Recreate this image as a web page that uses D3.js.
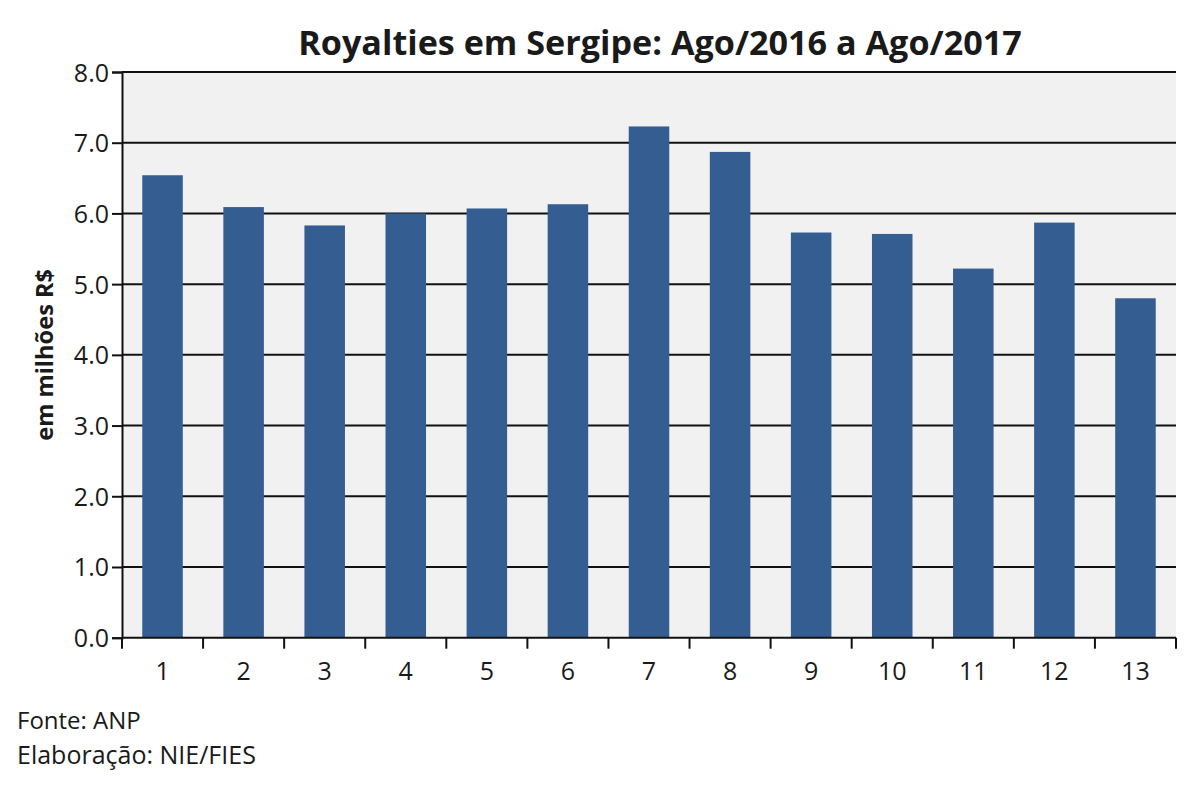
<!DOCTYPE html>
<html>
<head>
<meta charset="utf-8">
<script src="https://cdn.jsdelivr.net/npm/d3@7"></script>
<style>
  body { margin: 0; background: #fff; }
  text { font-family: "Open Sans", "Noto Sans", sans-serif; fill: #1a1a1a; }
</style>
</head>
<body>
<script>
const months = ["1","2","3","4","5","6","7","8","9","10","11","12","13"];
const royalties = [6.54, 6.09, 5.83, 6.00, 6.07, 6.13, 7.23, 6.87, 5.73, 5.71, 5.22, 5.87, 4.80];
const yTicks = [0, 1, 2, 3, 4, 5, 6, 7, 8];

const W = 1200, H = 785;
const m = {top: 72, right: 24, bottom: 148, left: 122};

const svg = d3.select("body").append("svg").attr("width", W).attr("height", H);

const x = d3.scaleBand().domain(months).range([m.left, W - m.right]).paddingInner(0.5).paddingOuter(0.25);
const y = d3.scaleLinear().domain([0, 8]).range([H - m.bottom + 0.7, m.top]);

// shrink/grow a text node so it spans the wanted width
function fit(sel, base, width) {
  sel.style("font-size", base + "px");
  const w = sel.node().getComputedTextLength();
  sel.style("font-size", (base * width / w) + "px");
}

// plot background
svg.append("rect")
    .attr("x", m.left).attr("y", y(8))
    .attr("width", W - m.right - m.left).attr("height", y(0) - y(8))
    .attr("fill", "#f1f1f1");

// gridlines
svg.append("g").selectAll("line").data(yTicks.slice(1)).enter().append("line")
    .attr("x1", m.left).attr("x2", W - m.right)
    .attr("y1", d => y(d)).attr("y2", d => y(d))
    .attr("stroke", "#111").attr("stroke-width", 2);

// bars
svg.append("g").selectAll("rect").data(royalties).enter().append("rect")
    .attr("x", (d, i) => x(months[i]))
    .attr("y", d => y(d))
    .attr("width", x.bandwidth())
    .attr("height", d => y(0) - y(d))
    .attr("fill", "#345e91");

// y axis
const yAxis = svg.append("g").attr("transform", "translate(" + m.left + ",0)")
    .call(d3.axisLeft(y).tickValues(yTicks).tickFormat(d3.format(".1f")).tickSize(10).tickPadding(3));
yAxis.select(".domain").attr("stroke", "#111").attr("stroke-width", 2);
yAxis.selectAll(".tick line").attr("stroke", "#111").attr("stroke-width", 2);
yAxis.selectAll("text").style("font-size", "25px").style("font-family", "'Open Sans', sans-serif")
    .attr("fill", "#2a2a2a").attr("dy", "0.36em");

// x axis, ticks on band boundaries
const step = x.step();
const xg = svg.append("g").attr("transform", "translate(0," + y(0) + ")");
xg.append("line").attr("x1", m.left).attr("x2", W - m.right).attr("stroke", "#111").attr("stroke-width", 2);
xg.selectAll(".bt").data(months).enter().append("line").attr("class", "bt")
    .attr("x1", (d, i) => m.left + step * i).attr("x2", (d, i) => m.left + step * i)
    .attr("y1", 0).attr("y2", 11)
    .attr("stroke", "#111").attr("stroke-width", 2);
xg.append("line").attr("x1", W - m.right).attr("x2", W - m.right).attr("y1", 0).attr("y2", 11)
    .attr("stroke", "#111").attr("stroke-width", 2);
xg.selectAll(".lbl").data(months).enter().append("text").attr("class", "lbl")
    .attr("x", d => x(d) + x.bandwidth() / 2)
    .attr("y", 42)
    .attr("text-anchor", "middle")
    .attr("fill", "#2a2a2a")
    .style("font-size", "25px")
    .text(d => d);

// title
const title = svg.append("text")
    .attr("x", 660).attr("y", 55)
    .attr("text-anchor", "middle")
    .style("font-weight", "bold")
    .text("Royalties em Sergipe: Ago/2016 a Ago/2017");
fit(title, 30, 724);

// y label
const ylab = svg.append("text")
    .attr("transform", "translate(53," + ((y(0) + y(8)) / 2) + ") rotate(-90)")
    .attr("text-anchor", "middle")
    .style("font-weight", "bold")
    .text("em milhões R$");
fit(ylab, 22, 172);

// footer
svg.append("text").attr("x", 17).attr("y", 729).style("font-size", "24px").text("Fonte: ANP");
const el = svg.append("text").attr("x", 17).attr("y", 764).text("Elaboração: NIE/FIES");
fit(el, 24, 239);
</script>
</body>
</html>
